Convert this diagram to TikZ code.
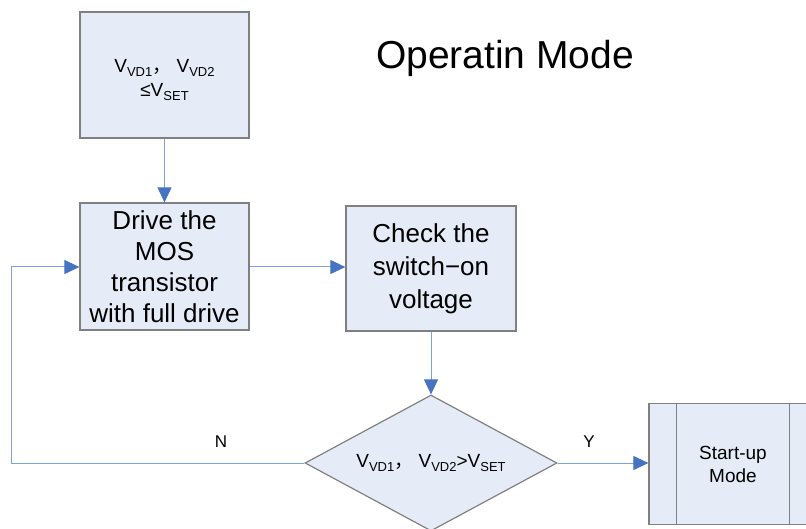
\documentclass[tikz,border=0pt]{standalone}
\usepackage{fontspec}
\setmainfont{Liberation Sans}
\newfontfamily\cjk{Noto Sans CJK SC}
\usetikzlibrary{shapes.geometric,arrows.meta}
\definecolor{boxfill}{HTML}{E6ECF7}
\definecolor{boxline}{HTML}{808080}
\definecolor{conn}{HTML}{7FA3D9}
\definecolor{tip}{HTML}{4674C1}
\newcommand{\mysub}[1]{\raisebox{-0.22em}{\fontsize{13}{13}\selectfont #1}}
\newcommand{\cc}{{\cjk ，}}
\tikzset{
  boxstyle/.style={draw=boxline, line width=1.2pt, fill=boxfill, inner sep=0pt, align=center},
  conline/.style={draw=conn, line width=1pt, -{Triangle[length=15pt,width=14pt,color=tip]}},
  lbl/.style={font=\fontsize{17}{17}\selectfont}
}
\begin{document}
\begin{tikzpicture}[x=1pt,y=-1pt]
\useasboundingbox (0,0) rectangle (806,529);
\node[font=\fontsize{39}{39}\selectfont] (title) at (505,58) {Operatin Mode};
\node[boxstyle, minimum width=169pt, minimum height=126pt,
  label={[align=center, font=\fontsize{19}{23}\selectfont, yshift=-5pt]center:V\mysub{VD1}\cc\ V\mysub{VD2}\\[1pt]≤V\mysub{SET}}] (top) at (164.5,75) {};
\node[boxstyle, minimum width=169pt, minimum height=127pt, font=\fontsize{26}{31}\selectfont] (drive) at (164.5,266.5) {Drive the\\MOS\\transistor\\with full drive};
\node[boxstyle, minimum width=170pt, minimum height=125pt, font=\fontsize{26}{33}\selectfont] (check) at (431,268.5) {Check the\\switch−on\\voltage};
\node[boxstyle, diamond, aspect=1.853, minimum width=252pt, minimum height=136pt, font=\fontsize{19}{23}\selectfont] (dec) at (431,463) {V\mysub{VD1}\cc\ V\mysub{VD2}>V\mysub{SET}};
\node[boxstyle, minimum width=168pt, minimum height=121pt, font=\fontsize{19}{23}\selectfont] (start) at (733,464) {Start-up\\Mode};
\draw[boxline, line width=1.2pt] ([xshift=28pt]start.north west) -- ([xshift=28pt]start.south west);
\draw[boxline, line width=1.2pt] ([xshift=-28pt]start.north east) -- ([xshift=-28pt]start.south east);
\coordinate (loopc) at (11,463);
\coordinate (loopu) at (11,267);
\draw[conline] (top.south) -- (drive.north);
\draw[conline] (drive.east |- 0,267) -- (check.west |- 0,267);
\draw[conline] (check.south) -- (dec.north);
\draw[conline] (dec.west) -- (loopc) -- (loopu) -- (drive.west |- loopu);
\draw[conline] (dec.east) -- (start.west |- dec.east);
\node[lbl] (nlab) at (221,442) {N};
\node[lbl] (ylab) at (589,442) {Y};
\end{tikzpicture}
\end{document}
